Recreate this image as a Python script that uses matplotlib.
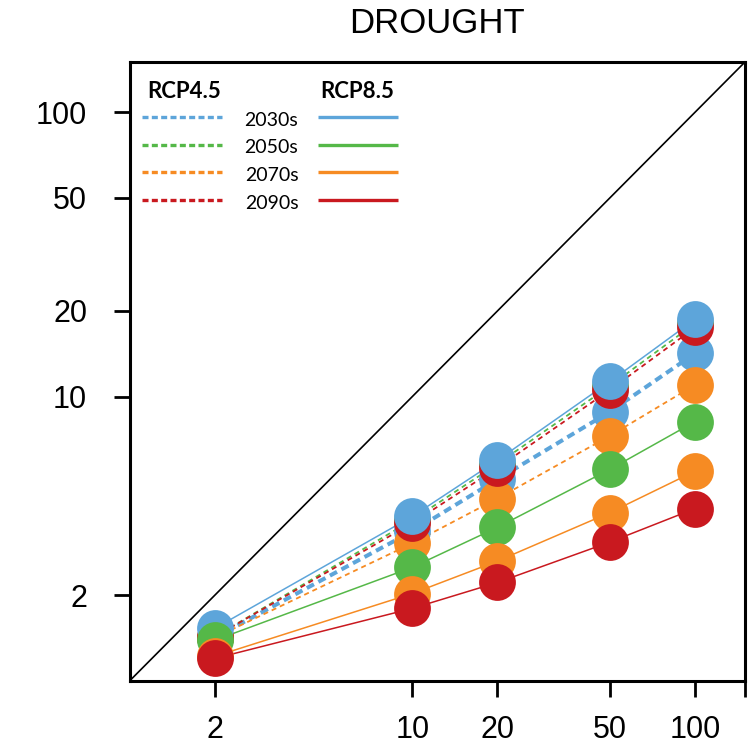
import numpy as np
import matplotlib
matplotlib.use("Agg")
import matplotlib.pyplot as plt

plt.rcParams['font.family'] = ['Liberation Sans', 'DejaVu Sans']

# return periods (years) on the x axis
return_periods = [2, 10, 20, 50, 100]
decades = ["2030s", "2050s", "2070s", "2090s"]
colors = ["#5DA5DA", "#55B848", "#F68B23", "#C9191F"]

# RCP4.5 (dashed)
rcp45_2030s = [1.42, 3.36, 5.12, 8.85, 14.2]
rcp45_2050s = [1.43, 3.68, 5.80, 10.9, 18.1]
rcp45_2070s = [1.42, 3.05, 4.38, 7.28, 11.0]
rcp45_2090s = [1.43, 3.59, 5.62, 10.56, 17.5]

# RCP8.5 (solid)
rcp85_2030s = [1.53, 3.79, 5.97, 11.3, 18.7]
rcp85_2050s = [1.39, 2.51, 3.47, 5.55, 8.17]
rcp85_2070s = [1.22, 2.03, 2.64, 3.91, 5.47]
rcp85_2090s = [1.20, 1.80, 2.22, 3.08, 4.04]

rcp45 = [rcp45_2030s, rcp45_2050s, rcp45_2070s, rcp45_2090s]
rcp85 = [rcp85_2030s, rcp85_2050s, rcp85_2070s, rcp85_2090s]

xticks = [2, 10, 20, 50, 100]
yticks = [2, 10, 20, 50, 100]
lims = (1, 150)

fig = plt.figure(figsize=(7.56, 7.5), dpi=100)
ax = fig.add_axes([0.1713, 0.092, 0.8141, 0.8253])
ax.set_xscale("log")
ax.set_yscale("log")
ax.set_xlim(lims)
ax.set_ylim(lims)

# 1:1 line
ax.plot(lims, lims, color="black", lw=1.2, zorder=1)

# lines first
for i, c in enumerate(colors):
    if i == 0:
        ax.plot(return_periods, rcp45[i], color=c, lw=2.9, dashes=(2, 1.25), zorder=2)
    else:
        ax.plot(return_periods, rcp45[i], color=c, lw=1.3, dashes=(2.8, 2.2), zorder=2)
for i, c in enumerate(colors):
    ax.plot(return_periods, rcp85[i], color=c, lw=1.1, zorder=2)

# then the circles
for i, c in enumerate(colors):
    ax.plot(return_periods, rcp45[i], "o", color=c, ms=26.5, mew=0, zorder=3)
for i, c in enumerate(colors):
    ax.plot(return_periods, rcp85[i], "o", color=c, ms=26.5, mew=0, zorder=3)

ax.set_xticks(xticks + [150])
ax.set_xticklabels([str(t) for t in xticks] + [""])
ax.set_yticks(yticks)
ax.set_yticklabels([str(t) for t in yticks])
ax.minorticks_off()
ax.tick_params(axis="both", direction="out", length=11.5, width=2, labelsize=22)
ax.tick_params(axis="x", pad=13)
ax.tick_params(axis="y", pad=19)
for s in ax.spines.values():
    s.set_linewidth(2.2)

# legend drawn by hand
leg_font = ['Lato', 'DejaVu Sans']
ax.text(0.0284, 0.953, "RCP4.5", transform=ax.transAxes, fontsize=16,
        fontweight="bold", family=leg_font, va="center", ha="left")
ax.text(0.3095, 0.953, "RCP8.5", transform=ax.transAxes, fontsize=16,
        fontweight="bold", family=leg_font, va="center", ha="left")
rows = [0.9111, 0.8667, 0.8223, 0.7771]
for y, c, d in zip(rows, colors, decades):
    ax.plot([0.0198, 0.1498], [y, y], transform=ax.transAxes, color=c,
            lw=2.4, dashes=(1.8, 1.0), solid_capstyle="butt")
    ax.plot([0.3063, 0.4362], [y, y], transform=ax.transAxes, color=c,
            lw=2.4, solid_capstyle="butt")
    ax.text(0.2307, y - 0.005, d, transform=ax.transAxes, fontsize=14,
            family=leg_font, va="center", ha="center")

fig.text(0.5777, 0.9687, "DROUGHT", fontsize=25, ha="center", va="center")

fig.savefig("out.png", dpi=100)
